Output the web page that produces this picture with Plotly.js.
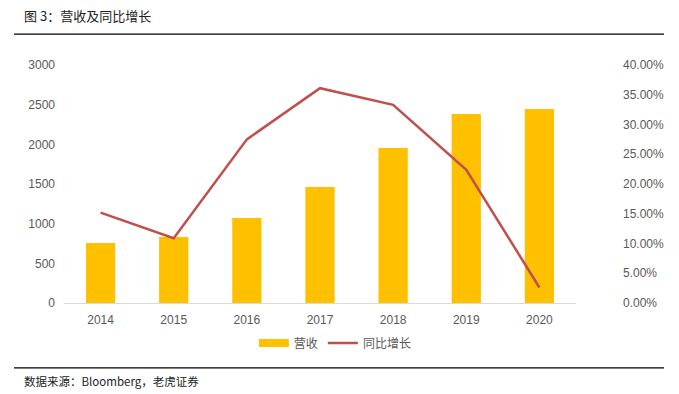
<!DOCTYPE html>
<html>
<head>
<meta charset="utf-8">
<script src="https://cdn.plot.ly/plotly-3.0.1.min.js"></script>
<style>html,body{margin:0;padding:0;background:#fff;}#chart{width:679px;height:394px;}</style>
</head>
<body>
<div id="chart"></div>
<script>
const years = ['2014','2015','2016','2017','2018','2019','2020'];
const revenue = [756, 832, 1071, 1462, 1954, 2382, 2445];
const growth = [0.152, 0.109, 0.275, 0.361, 0.333, 0.224, 0.026];
const leftTicks = [0, 500, 1000, 1500, 2000, 2500, 3000];
const rightTicks = [0, 0.05, 0.10, 0.15, 0.20, 0.25, 0.30, 0.35, 0.40];

const F = 'Liberation Sans, Arial, Noto Sans CJK SC, sans-serif';
const CJK = 'Noto Sans CJK SC, Liberation Sans, sans-serif';

const traces = [
  {type:'bar', name:'营收', x:years, y:revenue, marker:{color:'#FFC000'}, yaxis:'y', showlegend:false},
  {type:'scatter', mode:'lines', name:'营收', x:[years[0]], y:[null], line:{color:'#FFC000', width:8}, yaxis:'y', showlegend:true, hoverinfo:'skip'},
  {type:'scatter', mode:'lines', name:'同比增长', x:years, y:growth, line:{color:'#C0504D', width:2.5}, yaxis:'y2'}
];

const layout = {
  width:679, height:394,
  margin:{l:64, r:103, t:65, b:91},
  paper_bgcolor:'#fff', plot_bgcolor:'#fff',
  bargap:0.6,
  showlegend:true,
  legend:{orientation:'h', x:0.53, xanchor:'center', y:-0.168, yanchor:'middle',
          font:{family:CJK, size:12, color:'#595959'}, itemwidth:30, tracegroupgap:0},
  xaxis:{type:'category', showgrid:false, zeroline:false, showline:true, linecolor:'#d9d9d9', linewidth:1,
         ticks:'', tickfont:{family:F, size:12, color:'#595959'}, ticklabelstandoff:6},
  yaxis:{range:[0,3000], tickvals:leftTicks, ticktext:leftTicks.map(String), showgrid:false, zeroline:false,
         showline:false, ticks:'', tickfont:{family:F, size:12, color:'#595959'}, ticklabelstandoff:8},
  yaxis2:{range:[0,0.40], overlaying:'y', side:'right', tickvals:rightTicks,
          ticktext:rightTicks.map(v=>(v*100).toFixed(2)+'%'), showgrid:false, zeroline:false, showline:false,
          ticks:'', tickfont:{family:F, size:12, color:'#595959'}, ticklabelstandoff:46},
  shapes:[
    {type:'line', xref:'paper', yref:'paper', x0:-0.0977, x1:1.1719, y0:1.130, y1:1.130, line:{color:'#000', width:1.2}},
    {type:'line', xref:'paper', yref:'paper', x0:-0.0977, x1:1.1719, y0:-0.273, y1:-0.273, line:{color:'#000', width:1.2}}
  ],
  annotations:[
    {xref:'paper', yref:'paper', x:-0.082, y:1.208, xanchor:'left', yanchor:'middle', showarrow:false,
     text:'图 3：营收及同比增长', font:{family:CJK, size:13, color:'#222'}},
    {xref:'paper', yref:'paper', x:-0.082, y:-0.328, xanchor:'left', yanchor:'middle', showarrow:false,
     text:'数据来源：Bloomberg，老虎证券', font:{family:CJK, size:11.5, color:'#222'}}
  ]
};

Plotly.newPlot('chart', traces, layout, {displayModeBar:false, staticPlot:true});
</script>
</body>
</html>
